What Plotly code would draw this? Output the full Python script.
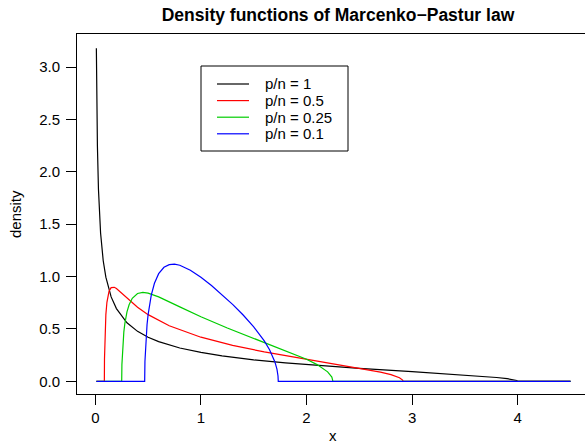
import plotly.graph_objects as go

# Values
x_pn1 = [0.01, 0.015, 0.02, 0.03, 0.04, 0.05, 0.075, 0.1, 0.15, 0.2, 0.3, 0.4, 0.5, 0.6, 0.8,
         1.0, 1.2, 1.5, 1.8, 2.0, 2.5, 3.0, 3.3, 3.5, 3.7, 3.8, 3.9, 3.95, 3.99, 4.0, 4.5]
y_pn1 = [3.179, 2.594, 2.245, 1.831, 1.584, 1.415, 1.151, 0.994, 0.806, 0.694, 0.559, 0.477, 0.421, 0.379, 0.318,
         0.276, 0.243, 0.205, 0.176, 0.159, 0.123, 0.0919, 0.0733, 0.0602, 0.0453, 0.0365, 0.0255, 0.0179, 0.0080, 0.0, 0.0]

x_pn05 = [0.01, 0.0858, 0.087, 0.09, 0.095, 0.1, 0.11, 0.12, 0.13, 0.15, 0.18, 0.2, 0.25, 0.3, 0.4, 0.5,
          0.7, 1.0, 1.3, 1.6, 2.0, 2.3, 2.6, 2.7, 2.8, 2.88, 2.91, 2.9142, 4.5]
y_pn05 = [0.0, 0.0, 0.2144, 0.3858, 0.5400, 0.6366, 0.7541, 0.8202, 0.8591, 0.8941, 0.8975, 0.8861, 0.8422, 0.7940, 0.7073, 0.6366,
          0.5303, 0.4211, 0.3428, 0.2806, 0.2105, 0.1614, 0.1088, 0.0882, 0.0633, 0.0342, 0.0119, 0.0, 0.0]

x_pn025 = [0.01, 0.25, 0.252, 0.26, 0.27, 0.28, 0.3, 0.32, 0.35, 0.4, 0.45, 0.5, 0.6, 0.8, 1.0,
           1.25, 1.5, 1.75, 2.0, 2.1, 2.2, 2.24, 2.25, 4.5]
y_pn025 = [0.0, 0.0, 0.1597, 0.3454, 0.4692, 0.5527, 0.6626, 0.7312, 0.7928, 0.8384, 0.8488, 0.8422, 0.8063, 0.7106, 0.6164,
           0.5093, 0.4109, 0.3150, 0.2105, 0.1597, 0.0904, 0.0401, 0.0, 0.0]

x_pn01 = [0.01, 0.4675, 0.47, 0.48, 0.49, 0.5, 0.53, 0.56, 0.6, 0.65, 0.7, 0.75, 0.8, 0.9, 1.0,
          1.1, 1.2, 1.3, 1.4, 1.5, 1.6, 1.65, 1.7, 1.72, 1.73, 1.7325, 4.5]
y_pn01 = [0.0, 0.0, 0.1886, 0.4141, 0.5425, 0.6366, 0.8229, 0.9357, 1.0273, 1.0882, 1.1139, 1.1179, 1.1077, 1.0610, 0.9939,
          0.9151, 0.8283, 0.7346, 0.6330, 0.5198, 0.3853, 0.3012, 0.1872, 0.1156, 0.0512, 0.0, 0.0]

series_names = ["p/n = 1", "p/n = 0.5", "p/n = 0.25", "p/n = 0.1"]
series_colors = ["#000000", "#FF0000", "#00CD00", "#0000FF"]

x_ticks = [0, 1, 2, 3, 4]
y_ticks = [0.0, 0.5, 1.0, 1.5, 2.0, 2.5, 3.0]

FONT = "Liberation Sans, Arial, Helvetica, sans-serif"

fig = go.Figure()
for xs, ys, name, col in zip([x_pn1, x_pn05, x_pn025, x_pn01],
                             [y_pn1, y_pn05, y_pn025, y_pn01],
                             series_names, series_colors):
    fig.add_trace(go.Scatter(x=xs, y=ys, mode="lines", name=name,
                             line=dict(color=col, width=1.2), showlegend=False))

W, H = 585, 444
L, R, T, B = 77, 0, 34, 50
PW, PH = W - L - R, H - T - B


def px_x(p):
    return (p - L) / PW


def px_y(p):
    return (H - B - p) / PH


# legend drawn in R style: a boxed key with short line samples
shapes = [dict(type="rect", xref="paper", yref="paper",
               x0=px_x(201), x1=px_x(348), y0=px_y(151), y1=px_y(66),
               line=dict(color="black", width=1), fillcolor="white", layer="above")]
annotations = []
row_y = [84, 100.6, 117.2, 133.8]
for name, col, ry in zip(series_names, series_colors, row_y):
    shapes.append(dict(type="line", xref="paper", yref="paper",
                       x0=px_x(217), x1=px_x(249), y0=px_y(ry), y1=px_y(ry),
                       line=dict(color=col, width=1.2), layer="above"))
    annotations.append(dict(text=name, xref="paper", yref="paper", x=px_x(263), y=px_y(ry),
                            xanchor="left", yanchor="middle", showarrow=False,
                            font=dict(family=FONT, size=15, color="black")))

annotations += [
    dict(text="x", xref="paper", yref="paper", x=px_x(333), y=px_y(435),
         xanchor="center", yanchor="middle", showarrow=False,
         font=dict(family=FONT, size=15, color="black")),
    dict(text="density", xref="paper", yref="paper", x=px_x(15), y=px_y(214),
         xanchor="center", yanchor="middle", textangle=-90, showarrow=False,
         font=dict(family=FONT, size=15, color="black")),
]

fig.update_layout(
    width=W, height=H,
    margin=dict(l=L, r=R, t=T, b=B),
    paper_bgcolor="white", plot_bgcolor="white",
    font=dict(family=FONT, size=15, color="black"),
    title=dict(text="<b>Density functions of Marcenko\u2212Pastur law</b>",
               x=338 / W, xref="container", xanchor="center",
               y=1 - 15 / H, yref="container", yanchor="middle",
               font=dict(family=FONT, size=17.5, color="black")),
    showlegend=False,
    xaxis=dict(range=[-0.1733, 4.637], tickvals=x_ticks, ticktext=[str(v) for v in x_ticks],
               ticks="outside", ticklen=10, tickwidth=1, tickcolor="black",
               showline=True, linecolor="black", linewidth=1, mirror=True,
               showgrid=False, zeroline=False, tickfont=dict(size=15)),
    yaxis=dict(range=[-0.121, 3.315], tickvals=y_ticks, ticktext=[f"{v:.1f}" for v in y_ticks],
               ticks="outside", ticklen=10, tickwidth=1, tickcolor="black",
               showline=True, linecolor="black", linewidth=1, mirror=False,
               showgrid=False, zeroline=False, tickfont=dict(size=15),
               ticklabelstandoff=3),
    shapes=shapes,
    annotations=annotations,
)

fig.write_html("out.html", post_script="document.body.style.margin='0';",
               config={"displayModeBar": False})
